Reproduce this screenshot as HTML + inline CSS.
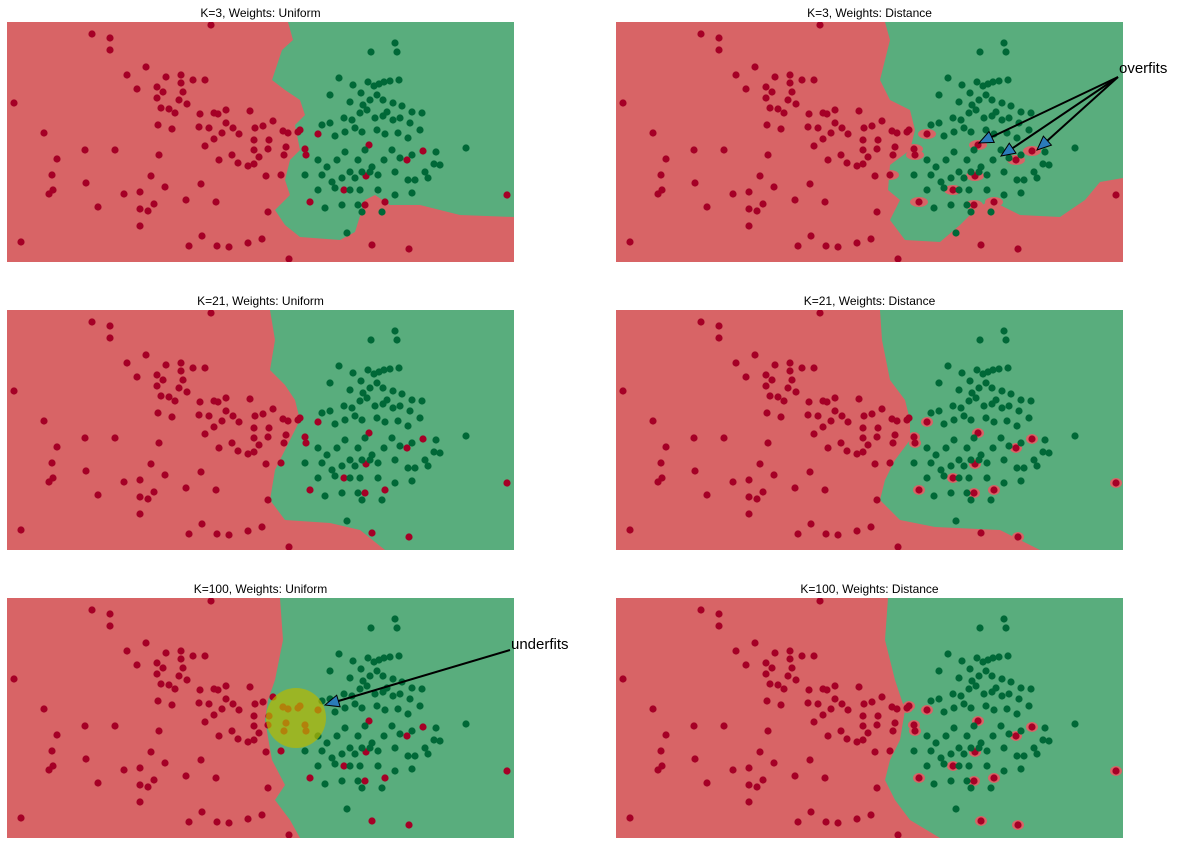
<!DOCTYPE html>
<html><head><meta charset="utf-8"><style>
body{margin:0;background:#fff;width:1179px;height:845px;overflow:hidden}
svg{display:block}
text{font-family:"Liberation Sans","DejaVu Sans",sans-serif}
</style></head><body>
<svg id="chart" width="1179" height="845"></svg>
<script>
const redX=[92,110,110,211,14,21,44,57,52,53,49,85,86,124,127,137,146,157,157,163,161,158,159,166,169,172,175,181,181,183,179,187,193,199,205,200,205,209,214,218,226,226,214,233,222,219,216,217,201,186,189,202,229,248,262,268,250,254,259,263,273,283,286,284,281,288,298,300,305,306,318,239,232,238,248,254,255,254,268,266,151,148,154,140,140,165,289,385,372,409,423,407,369,365,366,344,310,269,98,507,115,140];
const redY=[34,38,50,25,103,242,133,159,175,190,194,150,183,194,75,89,67,87,98,92,108,125,155,77,109,129,113,75,83,92,100,104,80,127,80,114,146,128,113,114,110,123,139,128,133,160,202,246,184,200,246,236,247,243,239,212,111,140,157,126,121,131,147,155,175,133,132,130,149,155,134,134,155,163,166,164,128,150,149,176,176,211,204,209,226,187,259,202,245,249,151,160,145,205,176,190,202,140,207,195,150,192];
const greenX=[371,395,397,339,353,330,350,361,368,374,379,384,390,399,363,370,377,383,387,393,402,412,422,344,352,360,367,375,383,393,400,410,322,330,335,345,355,362,377,385,398,408,420,434,466,318,327,337,345,350,358,365,372,384,392,400,412,425,436,440,322,332,342,355,362,370,378,395,408,415,428,305,318,335,350,360,378,395,412,325,342,362,382,347,358];
const greenY=[52,43,52,78,85,95,102,93,82,86,84,82,81,80,105,100,95,100,112,103,106,112,113,118,120,113,110,118,116,120,118,123,125,123,136,132,128,132,130,134,133,138,130,164,148,160,167,160,152,172,160,150,167,160,150,158,155,172,152,165,175,182,178,178,172,172,175,172,180,180,178,175,190,188,190,190,190,195,193,208,205,212,212,233,205];
const titles=["K=3, Weights: Uniform","K=3, Weights: Distance","K=21, Weights: Uniform","K=21, Weights: Distance","K=100, Weights: Uniform","K=100, Weights: Distance"];
const regions=[
[[288,22],[293,40],[282,50],[272,80],[285,90],[300,100],[305,115],[295,125],[300,150],[290,160],[285,180],[290,195],[275,210],[285,225],[300,237],[340,240],[355,232],[365,200],[375,195],[390,205],[420,205],[460,215],[514,217],[514,22]],
[[885,22],[890,40],[885,60],[880,80],[890,100],[910,110],[915,130],[910,150],[890,165],[888,190],[900,200],[890,220],[905,240],[940,242],[960,225],[975,210],[990,200],[1020,215],[1060,217],[1085,200],[1100,182],[1123,178],[1123,22]],
[[270,310],[275,340],[270,370],[285,385],[295,400],[300,420],[290,440],[275,470],[270,500],[285,520],[330,523],[360,530],[385,550],[514,550],[514,310]],
[[880,310],[882,340],[890,380],[905,400],[910,420],[910,440],[895,460],[885,480],[880,500],[900,520],[935,527],[1000,530],[1040,550],[1123,550],[1123,310]],
[[280,598],[283,640],[275,680],[268,700],[265,720],[272,760],[285,785],[275,800],[290,820],[300,838],[514,838],[514,598]],
[[888,598],[885,640],[895,680],[905,710],[900,740],[890,760],[885,780],[895,800],[910,820],[940,838],[1123,838],[1123,598]]];
const NS="http://www.w3.org/2000/svg";
const svg=document.getElementById('chart');
function mk(t,a,p){const e=document.createElementNS(NS,t);for(const k in a)e.setAttribute(k,a[k]);(p||svg).appendChild(e);return e;}
function inside(pt,poly){let c=false;for(let i=0,j=poly.length-1;i<poly.length;j=i++){const[xi,yi]=poly[i],[xj,yj]=poly[j];if(((yi>pt[1])!==(yj>pt[1]))&&(pt[0]<(xj-xi)*(pt[1]-yi)/(yj-yi)+xi))c=!c;}return c;}
const PX=[7,616],PY=[22,310,598],W=507,H=240;
const defs=mk('defs',{});
const sx=v=>v-7, sy=v=>v-22;
for(let i=0;i<6;i++){
  const ox=PX[i%2],oy=PY[Math.floor(i/2)];
  const cp=mk('clipPath',{id:'c'+i},defs);mk('rect',{x:ox,y:oy,width:W,height:H},cp);
  const g=mk('g',{'clip-path':'url(#c'+i+')'});
  
  
  const bg=mk('rect',{x:ox,y:oy,width:W,height:H,fill:'#d86466'},g);
  
  
  const poly=mk('polygon',{points:regions[i].map(p=>p.join(',')).join(' '),fill:'#59ad7d'},g);
  
  
  if(i%2===1){for(let j=0;j<redX.length;j++){const cx=ox+sx(redX[j]),cy=oy+sy(redY[j]);
    if(!inside([cx,cy],regions[i]))continue;
    const isl=mk('ellipse',{cx:cx,cy:cy,rx:i===1?9:6,ry:5,fill:'#d86466'},g);
    
    }}
  for(let j=0;j<redX.length;j++){const c=mk('circle',{cx:ox+sx(redX[j]),cy:oy+sy(redY[j]),r:3.6,fill:'#a50026'},g);
    
    }
  for(let j=0;j<greenX.length;j++){const c=mk('circle',{cx:ox+sx(greenX[j]),cy:oy+sy(greenY[j]),r:3.6,fill:'#006837'},g);
    
    }
  const t=mk('text',{x:ox+W/2,y:oy-5,'text-anchor':'middle','font-size':12,fill:'#000'});
  t.textContent=titles[i];
  
  
}
const circ=mk('circle',{cx:296,cy:718,r:30,fill:'#b8b800','fill-opacity':0.7});


function arrow(x1,y1,x2,y2){
  const dx=x2-x1,dy=y2-y1,L=Math.hypot(dx,dy),ux=dx/L,uy=dy/L,px=-uy,py=ux,h=14,w=6;
  const bx=x2-ux*h,by=y2-uy*h;
  const l=mk('line',{x1:x1,y1:y1,x2:bx,y2:by,stroke:'#000','stroke-width':2});
  
  
  const p=mk('polygon',{points:`${x2},${y2} ${bx+px*w},${by+py*w} ${bx-px*w},${by-py*w}`,fill:'#2b7bba',stroke:'#000','stroke-width':1});
  
  
}
arrow(1118,77,979,143);arrow(1118,77,1001,156);arrow(1118,77,1037,150);
arrow(510,650,325,705);
const o=mk('text',{x:1119,y:73,'font-size':15,fill:'#000'});o.textContent='overfits';


const u=mk('text',{x:511,y:649,'font-size':15,fill:'#000'});u.textContent='underfits';


</script>
</body></html>
